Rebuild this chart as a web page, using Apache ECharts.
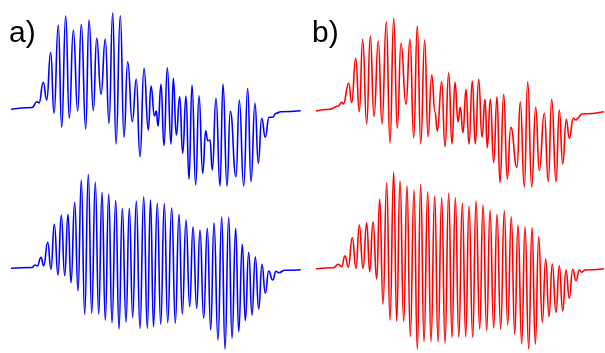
<!DOCTYPE html>
<html>
<head>
<meta charset="utf-8">
<script src="https://cdn.jsdelivr.net/npm/echarts@6/dist/echarts.min.js"></script>
<style>
  html, body { margin: 0; padding: 0; background: #fff; }
  #main { width: 605px; height: 353px; }
</style>
</head>
<body>
<div id="main"></div>
<script>
// peak / trough positions (x, y in picture units)
var blueTop = [[11,109.3],[32,107.5],[37,101.7],[39,103],[43.3,82.3],[46.7,100],[50.7,52.3],[54,113.3],[58.3,25],[61.7,127.3],[65.7,15.7],[69.3,118.3],[73.3,30],[77.7,111],[81.3,24.3],[85.7,129],[89,20],[93.3,110.7],[96.7,38.3],[101,94.3],[105.3,39],[109,123.3],[112.7,12.7],[116,144],[120.3,15.7],[124,137.3],[127.7,61.7],[132.3,121.7],[136.3,79.3],[140,156.7],[144,68.3],[148.3,130],[151,86],[154.5,116],[156.3,111],[158,126],[161,84.3],[164,145.7],[167.3,67.7],[171,144.3],[173.3,78.3],[176.3,135],[179.7,96.7],[182.7,153.3],[186,96],[189,179.3],[192,85],[195.7,185],[199,95.7],[202.7,173.3],[205.7,130.7],[207.7,140.7],[210,140],[212.3,170],[216,98.3],[220,186],[223,84],[227,186],[230.3,111.3],[236,176.7],[239.3,100],[243.7,186],[247.7,88.3],[251,181.7],[255,103.3],[258.3,163.3],[261.7,118.3],[265.3,137.3],[269,117.3],[272.7,117.3],[276,113.3],[280.7,111.7],[300.7,110.7]];

var blueBottom = [[11,268.3],[32,267.5],[35,265],[37.3,266],[41,257.3],[43.7,265.7],[47.7,242.3],[51,269.3],[54.3,224.3],[58,275],[61.3,215],[64.7,275.7],[68,214.3],[71,282.7],[74.7,202.3],[78,291],[81.3,180],[84.7,314.3],[88.3,174.3],[91.7,313.3],[95.3,182.3],[98.7,314.3],[102,192.3],[105.3,320],[108.7,194.3],[112,322.7],[115.7,200.3],[119,329],[122.3,208.3],[126,322.3],[129.3,208.3],[132.7,317.7],[136.3,201],[140,328.3],[143.7,196.7],[147.3,328.3],[150.5,200],[153.5,326.7],[157.3,203.3],[160.7,324.3],[164.3,203.3],[167.7,322.7],[171.7,207.7],[175.3,323.3],[179,214.3],[182.3,314],[186,220],[189.7,306.7],[193,226.7],[196.7,308.3],[200,230],[203.7,318.3],[207.3,228.3],[210.7,330],[214,222.7],[218,340],[221.7,216.7],[225,349],[228.7,217.3],[232,338.3],[235.7,228.3],[238.7,331.7],[242.3,244.3],[245.3,320.7],[248.7,252.3],[252,315],[255.3,256.7],[258.7,309],[262,264.3],[265.3,293.3],[268.7,271],[272.7,280],[276,271.3],[278.7,272.7],[285,270.3],[300.7,269.7]];

var redTop = [[316,111],[330,109.3],[338.3,106],[341.7,102.3],[343.3,104],[348.7,83.3],[351.7,102.7],[355.7,58.3],[359.3,111.7],[362.7,39.3],[366.7,124],[370.3,36],[374,116.7],[378.3,41],[382,124],[386.3,21.7],[390,143.3],[393.7,18.3],[397.3,128.3],[401,43.3],[406,104.3],[410,39.3],[413.7,137.7],[417.3,25.7],[420.7,144],[424.7,40],[428,136.7],[431.7,75],[435,112],[437.3,131],[441.7,81.7],[445,146.7],[448.7,72.7],[452,144],[455,82.3],[458,121.7],[460.3,107.3],[463,132.7],[466,89.3],[469,144],[472.3,81],[475.3,144],[478.7,79.3],[482,137.3],[485,99.3],[487.3,147.7],[490.3,99.3],[493.7,162.7],[497,96.7],[500,182.7],[503.7,94.3],[507.3,179],[510.7,127.3],[517,167.3],[520.3,101.7],[524.3,187],[527.7,81.7],[531.7,187],[535.7,107.3],[539.3,170.7],[544.3,113.3],[548.3,181.7],[551.7,99.3],[556,181.7],[559.3,110],[562.7,164],[566.3,119.3],[569.3,138.3],[573.3,118.3],[576,120],[577.7,118.3],[581.7,114],[604,111.7]];

var redBottom = [[316,268.7],[333.3,267.7],[338.3,264.3],[341.7,266.7],[345,255.7],[348.3,267.3],[352.3,237.7],[356,268.3],[359.3,225],[363,268.3],[366.7,222.7],[369.7,271.7],[373,221.7],[376.7,279],[379.7,199],[383,304.3],[386.7,182.7],[390,320],[393.7,172.3],[396.7,321],[400,181],[403.7,321.7],[407,186],[410.3,336.7],[414,190],[417.3,349],[420.7,184.3],[424,341.7],[427.7,191.7],[431,341.7],[434.7,196],[438,341.7],[441.7,197.7],[445,343.3],[448.7,193.3],[452,337.5],[455.3,197.7],[458.8,337.3],[462.3,203.3],[465.7,336.7],[469,206],[472.7,337.3],[476,201],[479.7,329],[483,205],[486.7,330.7],[490,210],[493.7,328.3],[497,214.3],[500.7,329.3],[504.3,210.7],[507.7,325],[511.3,216.7],[514.7,334.3],[518,225],[521.7,344],[525,226.7],[528.7,349],[532,227.3],[535.3,344.3],[538.7,236.7],[542.3,322.3],[545.7,259],[549,316.7],[552.3,264],[556,312.3],[559.3,265.7],[562.7,311],[566,270],[569.3,298.3],[572.7,269.3],[576,280.7],[579.3,270],[581.7,272.3],[585,270],[604,268.7]];

var panelLabels = ['a)', 'b)'];

var myChart = echarts.init(document.getElementById('main'));

function wave(name, data, color) {
    return {
        name: name,
        type: 'line',
        data: data,
        showSymbol: false,
        smooth: 0.5,
        smoothMonotone: 'x',
        silent: true,
        lineStyle: { color: color, width: 1.6 }
    };
}

var labelFont = '30px "Liberation Sans", Arial, sans-serif';

var option = {
    animation: false,
    backgroundColor: '#fff',
    grid: { left: 0, right: 0, top: 0, bottom: 0 },
    xAxis: { type: 'value', min: 0, max: 605, show: false },
    yAxis: { type: 'value', min: 0, max: 353, inverse: true, show: false },
    graphic: [
        { type: 'text', left: 9, top: 19, style: { text: panelLabels[0], font: labelFont, fill: '#000' } },
        { type: 'text', left: 312, top: 19, style: { text: panelLabels[1], font: labelFont, fill: '#000' } }
    ],
    series: [
        wave('a top', blueTop, '#0000ff'),
        wave('a bottom', blueBottom, '#0000ff'),
        wave('b top', redTop, '#ff0000'),
        wave('b bottom', redBottom, '#ff0000')
    ]
};

myChart.setOption(option);
</script>
</body>
</html>
